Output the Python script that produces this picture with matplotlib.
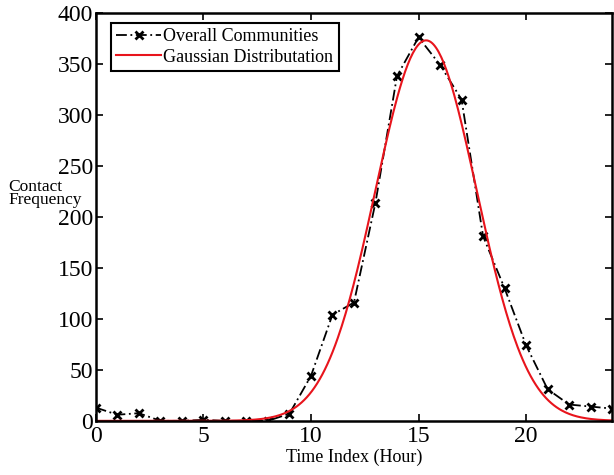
import matplotlib
matplotlib.use("Agg")
import matplotlib.pyplot as plt
import numpy as np

# hourly contact counts, all communities pooled
hours = list(range(25))
contacts = [13, 6, 7.5, 0, 0, 1, 0, 0, 0, 7, 44, 104, 116, 214, 338, 376,
            349, 315, 181, 130, 74, 31, 16, 14, 12]

# fitted Gaussian (amplitude, mean, std)
G_AMP = 373.0
G_MU = 15.35
G_SIGMA = 2.35

plt.rcParams["font.family"] = ["Liberation Serif", "DejaVu Serif"]

fig = plt.figure(figsize=(6.14, 4.75), dpi=100)
ax = fig.add_axes([0.156, 0.114, 0.841, 0.859])

xs = np.linspace(0, 24, 400)
gauss = G_AMP * np.exp(-(xs - G_MU) ** 2 / (2 * G_SIGMA ** 2))

ax.plot(hours, contacts, color="black", ls=(0, (6, 2, 1, 2)), lw=1.3,
        marker="x", ms=5.5, mew=2.0, label="Overall Communities")
ax.plot(xs, gauss, color="#e8141c", lw=1.5, label="Gaussian Distributation")

ax.set_xlim(0, 24)
ax.set_ylim(0, 400)
ax.set_xticks([0, 5, 10, 15, 20])
ax.set_yticks(range(0, 401, 50))
ax.tick_params(direction="in", length=5, width=1.2, labelsize=17,
               top=True, right=True, pad=2)
ax.tick_params(axis="x", pad=4)
for s in ax.spines.values():
    s.set_linewidth(1.8)

ax.set_xlabel("Time Index (Hour)", fontsize=13, labelpad=1)
fig.text(0.013, 0.593, "Contact\nFrequency", fontsize=12.5, ha="left",
         va="center", linespacing=0.8)

leg = ax.legend(loc="upper left", bbox_to_anchor=(0.022, 0.985), fontsize=13,
                fancybox=False, framealpha=1, edgecolor="black",
                handlelength=2.5, handletextpad=0.1, borderpad=0.3,
                labelspacing=0.2, borderaxespad=0.2)
leg.get_frame().set_linewidth(1.5)

fig.savefig("out.png", dpi=100)
